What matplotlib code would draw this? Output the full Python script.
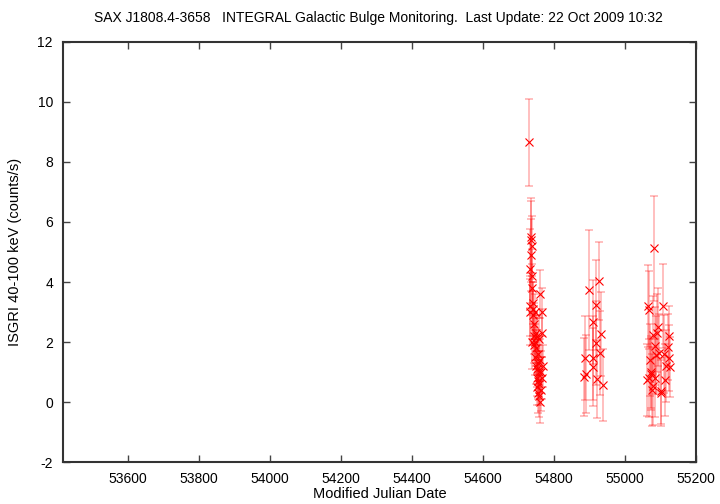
import matplotlib
matplotlib.use("Agg")
import matplotlib.pyplot as plt
from matplotlib.ticker import MultipleLocator

plt.rcParams['font.family'] = ['Liberation Sans', 'DejaVu Sans']
plt.rcParams['axes.unicode_minus'] = False

title = "SAX J1808.4-3658   INTEGRAL Galactic Bulge Monitoring.  Last Update: 22 Oct 2009 10:32"
xlabel = "Modified Julian Date"
ylabel = "ISGRI 40-100 keV (counts/s)"

# Cluster 1 (Sep-Oct 2008)
mjd1 = [54731, 54732, 54733, 54733.5, 54734, 54735, 54736, 54737, 54738, 54738.5,
        54739, 54740, 54741, 54742, 54743, 54744, 54745, 54746, 54747, 54748,
        54749, 54749.5, 54750, 54751, 54752, 54752.5, 54753, 54754, 54755, 54755.5,
        54756, 54757, 54757.5, 54758, 54759, 54760, 54761, 54762, 54763, 54764,
        54765, 54766, 54767, 54768]
rate1 = [8.65, 3.2, 3.0, 4.45, 4.9, 5.4, 5.5, 5.2, 4.2, 2.0,
         3.8, 3.1, 2.9, 3.3, 2.6, 2.2, 1.9, 3.0, 2.0, 1.5,
         2.3, 1.2, 1.8, 0.8, 1.1, 0.5, 2.2, 1.3, 0.3, 0.7,
         1.6, 0.2, 1.0, 0.6, 2.1, 0.0, 1.4, 3.6, 0.4, 1.0,
         2.3, 3.0, 0.8, 1.2]
err1 = [1.45, 1.0, 1.1, 1.3, 1.2, 1.4, 1.2, 1.0, 0.9, 0.9,
        0.8, 0.9, 0.8, 0.7, 0.7, 0.6, 0.6, 0.6, 0.6, 0.6,
        0.6, 0.6, 0.6, 0.6, 0.6, 0.6, 0.7, 0.6, 0.65, 0.6,
        0.6, 0.7, 0.7, 0.7, 0.7, 0.7, 0.7, 0.8, 0.7, 0.7,
        0.8, 0.8, 0.7, 0.7]

# Cluster 2 (Feb-Mar 2009)
mjd2 = [54885, 54888, 54890, 54899, 54910, 54910.5, 54911, 54919, 54919.5, 54920,
        54928, 54928.5, 54932, 54939]
rate2 = [0.83, 1.46, 0.93, 3.73, 2.67, 1.18, 1.48, 3.23, 1.97, 0.77,
         4.03, 1.64, 2.27, 0.57]
err2 = [1.3, 1.4, 1.3, 2.0, 1.4, 1.3, 1.4, 1.5, 1.4, 1.3,
        1.3, 1.4, 1.4, 1.2]

# Cluster 3 (Aug-Oct 2009)
mjd3 = [55062, 55066, 55067, 55068, 55070, 55072, 55074, 55076, 55078, 55080,
        55081, 55084, 55085, 55087, 55090, 55093, 55097, 55100, 55102, 55107,
        55110, 55112, 55115, 55121, 55123, 55124, 55126]
rate3 = [0.73, 3.2, 0.79, 3.07, 1.4, 0.93, 1.01, 0.4, 2.23, 0.52,
         5.12, 1.88, 0.79, 1.57, 2.3, 2.51, 1.62, 0.31, 0.38, 3.2,
         1.6, 0.73, 1.2, 1.84, 2.21, 1.46, 1.18]
err3 = [1.2, 1.37, 1.3, 1.3, 1.2, 1.2, 1.2, 1.2, 1.3, 1.3,
        1.75, 1.3, 1.3, 1.3, 1.3, 1.3, 1.3, 1.1, 1.1, 1.4,
        1.3, 1.2, 1.2, 1.1, 1.0, 1.1, 1.0]

mjd = mjd1 + mjd2 + mjd3
rate = rate1 + rate2 + rate3
err = err1 + err2 + err3

fig = plt.figure(figsize=(7.2, 5.04), dpi=100)
ax = fig.add_axes([0.0871, 0.0833, 0.9667 - 0.0871, 0.9167 - 0.0833])

ax.errorbar(mjd, rate, yerr=err, fmt='none', ecolor=(1.0, 0.0, 0.0, 0.32),
            elinewidth=1.1, capsize=3, capthick=1.1)
ax.plot(mjd, rate, linestyle='none', marker='x', color='#ff0000',
        markersize=6, markeredgewidth=0.8)

ax.set_xlim(53417, 55200)
ax.set_ylim(-2, 12)
ax.xaxis.set_major_locator(MultipleLocator(200))
ax.yaxis.set_major_locator(MultipleLocator(2))
ax.tick_params(direction='in', length=5, width=1, color='#444444',
               top=True, right=True, labelsize=10, pad=7)
for s in ax.spines.values():
    s.set_linewidth(1.5)
    s.set_color('#333333')

fig.text(0.528, 0.0198, xlabel, ha='center', va='center', fontsize=10.5)
fig.text(0.021, 0.5, ylabel, ha='center', va='center', rotation=90, fontsize=10.5)
fig.text(0.526, 0.964, title, ha='center', va='center', fontsize=10)

fig.savefig("out.png", dpi=100)
